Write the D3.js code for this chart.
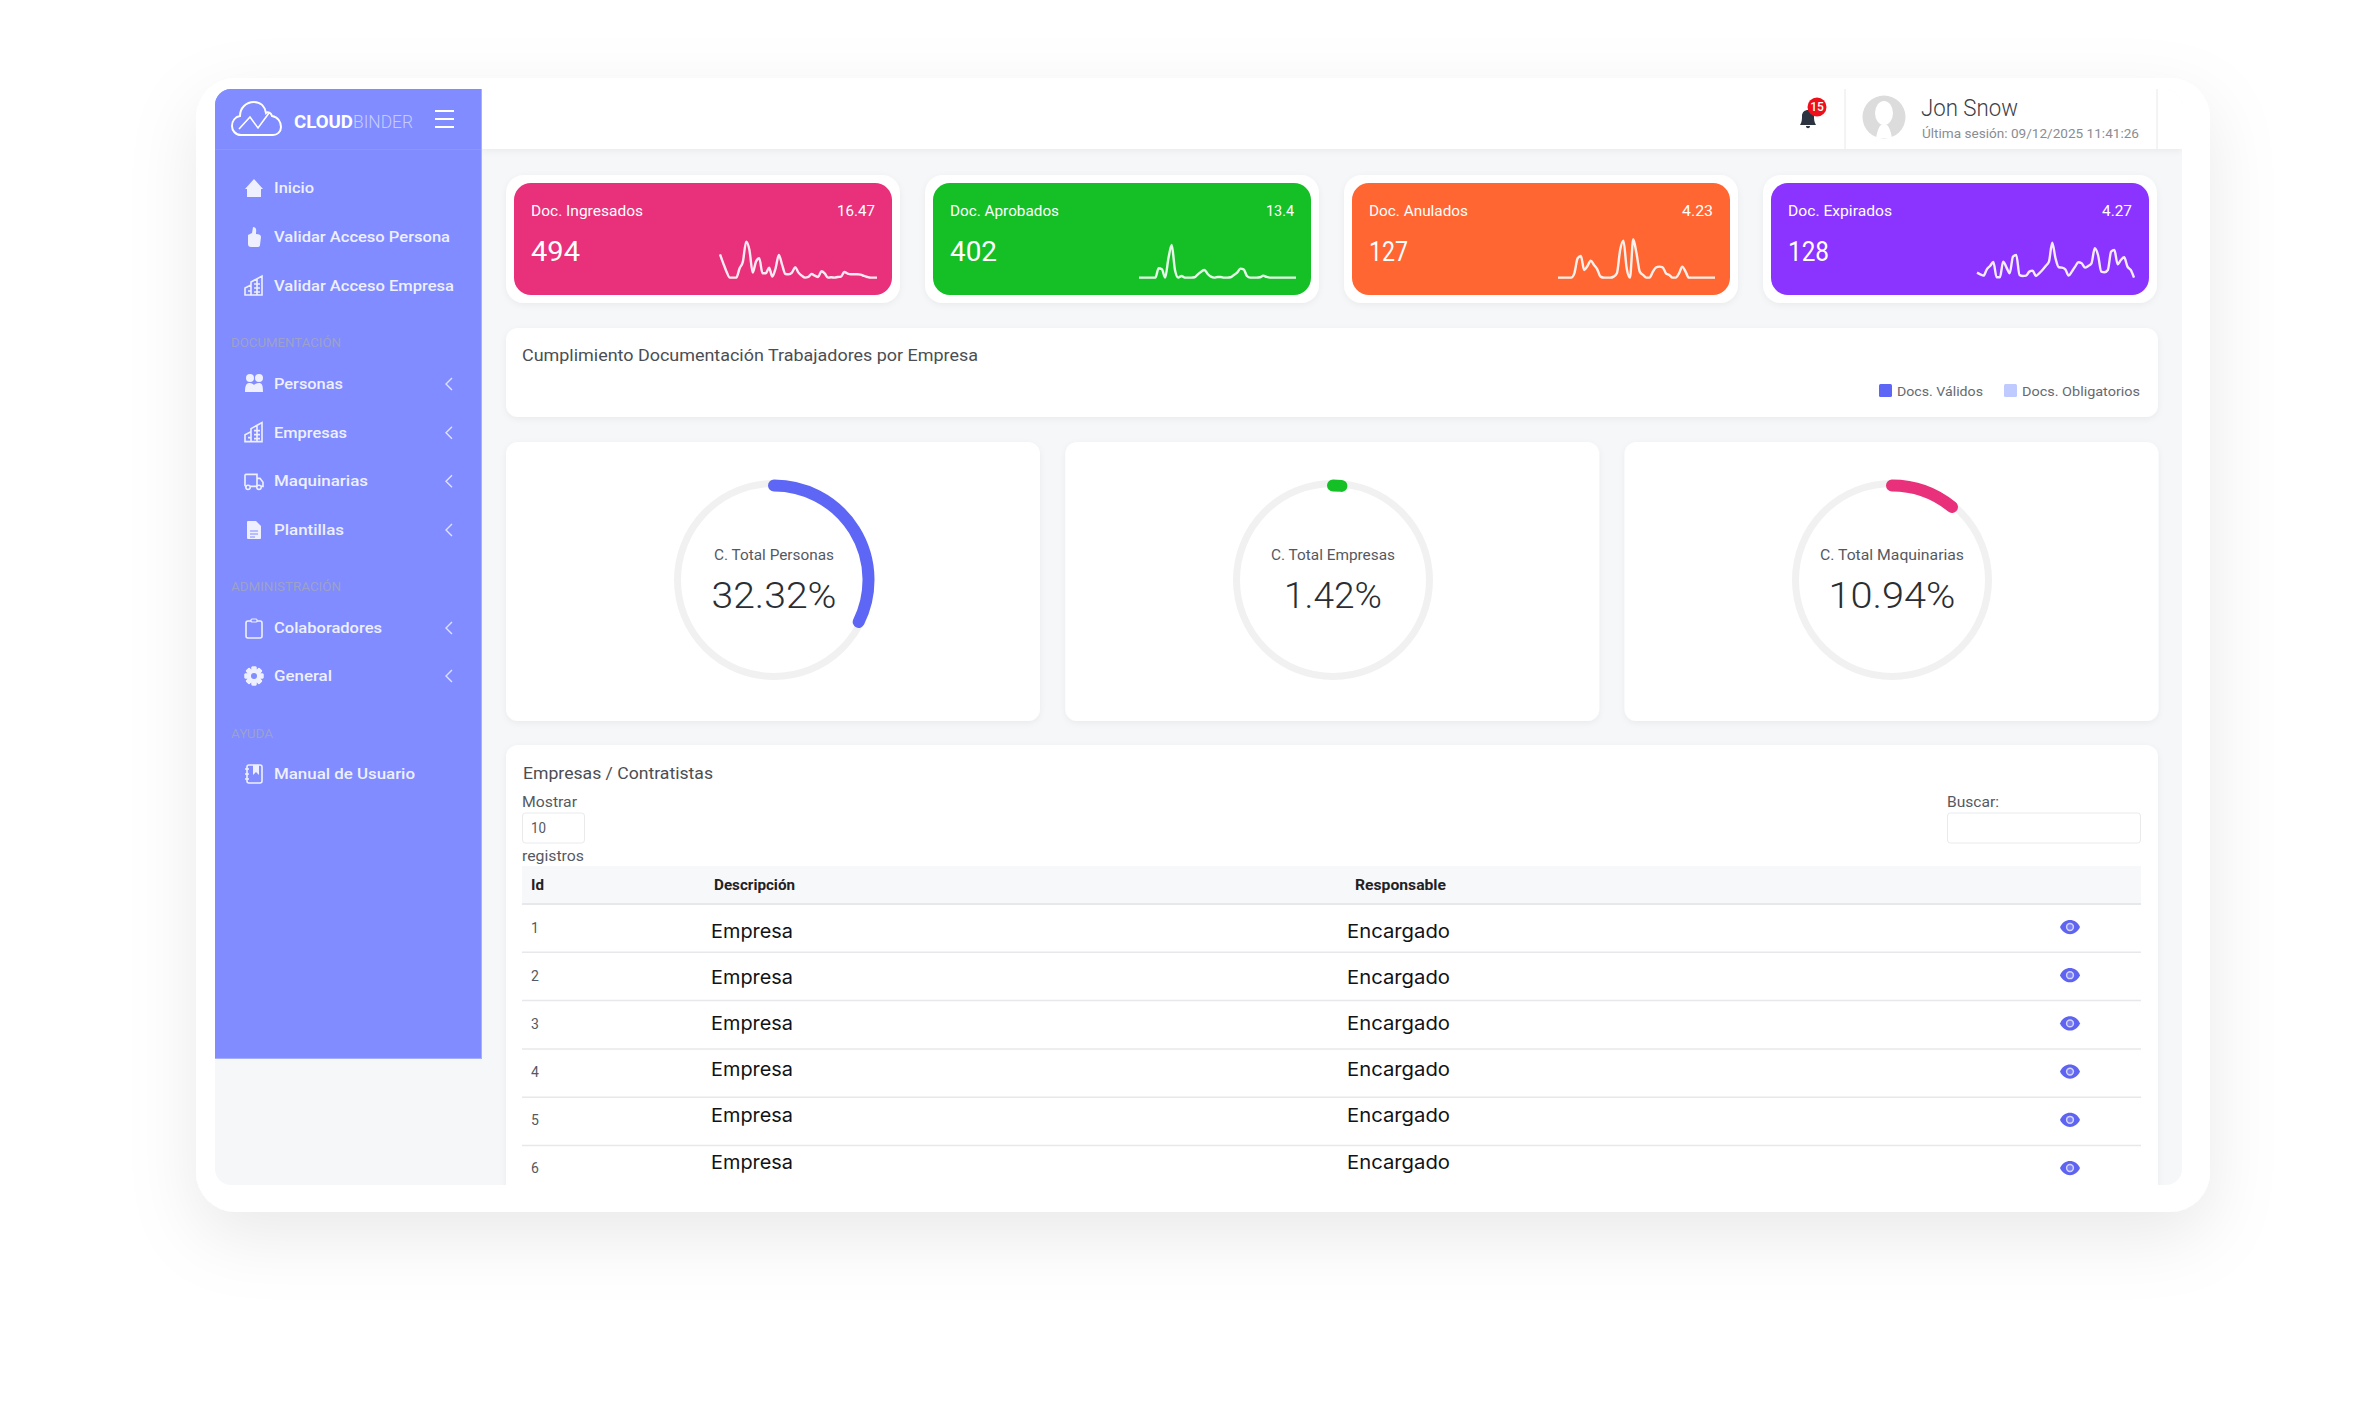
<!DOCTYPE html>
<html>
<head>
<meta charset="utf-8">
<script src="https://cdn.jsdelivr.net/npm/d3@7"></script>
<style>
  html, body { margin: 0; background: #fff; }
  svg { display: block; font-family: Roboto, sans-serif; }
  text { dominant-baseline: central; }
</style>
</head>
<body>
<svg width="2376" height="1407"></svg>
<script>
// top cards
const cardTitles = ['Doc. Ingresados', 'Doc. Aprobados', 'Doc. Anulados', 'Doc. Expirados']
const cardRates = ['16.47', '13.4', '4.23', '4.27']
const cardTotals = ['494', '402', '127', '128']
const cardColors = ['#e8307b', '#14c026', '#ff6632', '#8b33ff']

// sparklines
const sparkIngresados = [72,45,20,2,2,2,30,50,110,85,17,50,60,15,15,32,5,30,70,40,13,12,17,33,17,8,2,4,13,8,4,21,15,2,3,2,4,5,19,14,12,12,12,11,7,4,2,2,2]
const sparkAprobados = [2,2,2,2,2,2,30,27,2,60,100,25,2,7,2,2,2,3,12,20,25,13,5,2,4,4,2,2,3,10,17,29,27,7,2,2,2,3,8,4,2,2,2,2,2,2,2,2,2]
const sparkAnulados = [2,2,2,2,2,15,60,67,25,37,53,40,27,5,2,2,2,5,15,85,113,30,2,117,75,20,10,2,2,20,33,35,33,15,10,2,2,15,35,20,2,2,2,2,2,2,2,2,2]
const sparkExpirados = [17,12,8,27,37,49,3,3,50,33,15,65,70,10,7,8,20,23,7,15,25,37,50,107,60,33,32,27,8,20,35,48,45,32,37,45,90,70,20,18,25,80,85,42,55,63,35,25,2]
const sparks = [sparkIngresados, sparkAprobados, sparkAnulados, sparkExpirados]

// gauges
const gaugeLabels = ['C. Total Personas', 'C. Total Empresas', 'C. Total Maquinarias']
const gaugeValues = [32.32, 1.42, 10.94]
const gaugeColors = ['#5e66f5', '#14c026', '#e8307b']

// table
const tableIds = [1, 2, 3, 4, 5, 6]
const tableDesc = ['Empresa', 'Empresa', 'Empresa', 'Empresa', 'Empresa', 'Empresa']
const tableResp = ['Encargado', 'Encargado', 'Encargado', 'Encargado', 'Encargado', 'Encargado']

// sidebar menu
const menuTop = ['Inicio', 'Validar Acceso Persona', 'Validar Acceso Empresa']
const menuDoc = ['Personas', 'Empresas', 'Maquinarias', 'Plantillas']
const menuAdmin = ['Colaboradores', 'General']

// measured widths so the text sits like the reference
const fitW = {
  'Inicio': 40, 'Validar Acceso Persona': 176, 'Validar Acceso Empresa': 180,
  'Personas': 69, 'Empresas': 73, 'Maquinarias': 94, 'Plantillas': 70, 'Colaboradores': 108, 'General': 58,
  'Manual de Usuario': 141, 'DOCUMENTACIÓN': 110, 'ADMINISTRACIÓN': 110, 'AYUDA': 42,
  'Doc. Ingresados': 112, 'Doc. Aprobados': 109, 'Doc. Anulados': 99, 'Doc. Expirados': 104,
  '16.47': 38, '13.4': 28, '4.23': 31, '4.27': 30, '494': 49, '402': 47, '127': 39, '128': 41,
  'Cumplimiento Documentación Trabajadores por Empresa': 456, 'Docs. Válidos': 86, 'Docs. Obligatorios': 118,
  'C. Total Personas': 120, 'C. Total Empresas': 124, 'C. Total Maquinarias': 144,
  '32.32%': 125, '1.42%': 98, '10.94%': 127,
  'Empresas / Contratistas': 190, 'Mostrar': 55, 'registros': 62, 'Buscar:': 52, '10': 15,
  'Id': 13, 'Descripción': 81, 'Responsable': 91, 'Empresa': 82, 'Encargado': 103,
  'Jon Snow': 97, 'Última sesión: 09/12/2025 11:41:26': 217, 'CLOUD': 59, 'BINDER': 60
}

const svg = d3.select('svg')
const defs = svg.append('defs')

const frameShadow = defs.append('filter').attr('id', 'frameShadow')
  .attr('x', '-15%').attr('y', '-15%').attr('width', '130%').attr('height', '135%')
frameShadow.append('feDropShadow').attr('dx', 0).attr('dy', 24).attr('stdDeviation', 34)
  .attr('flood-color', '#000').attr('flood-opacity', 0.085)

const cardShadow = defs.append('filter').attr('id', 'cardShadow')
  .attr('x', '-5%').attr('y', '-10%').attr('width', '110%').attr('height', '125%')
cardShadow.append('feDropShadow').attr('dx', 0).attr('dy', 2).attr('stdDeviation', 3)
  .attr('flood-color', '#000').attr('flood-opacity', 0.05)

defs.append('clipPath').attr('id', 'screen')
  .append('rect').attr('x', 215).attr('y', 89).attr('width', 1967).attr('height', 1096).attr('rx', 16)

// writes a text, start anchored, stretched to its measured width
function txt(parent, str, x, y, size, fill, weight, family) {
  const t = parent.append('text').text(str)
    .attr('x', x).attr('y', y + 1)
    .attr('font-size', size).attr('fill', fill)
    .attr('font-weight', weight || 400)
  if (family) t.attr('font-family', family)
  if (fitW[str]) t.attr('textLength', fitW[str]).attr('lengthAdjust', 'spacingAndGlyphs')
  return t
}

// frame
svg.append('rect').attr('x', 196).attr('y', 78).attr('width', 2014).attr('height', 1134)
  .attr('rx', 40).attr('fill', '#fff').attr('filter', 'url(#frameShadow)')

const screen = svg.append('g').attr('clip-path', 'url(#screen)')
screen.append('rect').attr('x', 215).attr('y', 89).attr('width', 1967).attr('height', 1096).attr('fill', '#f6f7f9')

// top bar
screen.append('rect').attr('x', 482).attr('y', 89).attr('width', 1700).attr('height', 60)
  .attr('fill', '#fff').attr('filter', 'url(#cardShadow)')
screen.selectAll('.sep').data([1845, 2157]).enter().append('line').attr('class', 'sep')
  .attr('x1', d => d).attr('x2', d => d).attr('y1', 89).attr('y2', 149)
  .attr('stroke', '#e6e8ea')

// bell
screen.append('path').attr('transform', 'translate(1808,118)')
  .attr('d', 'M-8 7 C-6 4 -6 1 -6 -2 C-6 -6 -3 -8 0 -8 C3 -8 6 -6 6 -2 C6 1 6 4 8 7 Z M-2 8 H2 C2 11 -2 11 -2 8 Z')
  .attr('fill', '#2b3340')
screen.append('circle').attr('cx', 1817).attr('cy', 107).attr('r', 9.5).attr('fill', '#ee0f1a')
screen.append('text').text('15').attr('x', 1817).attr('y', 107).attr('text-anchor', 'middle')
  .attr('font-size', 12).attr('fill', '#fff').attr('font-weight', 500)

// avatar
screen.append('circle').attr('cx', 1884).attr('cy', 117).attr('r', 21.5).attr('fill', '#dcdcdc')
screen.append('ellipse').attr('cx', 1884).attr('cy', 113).attr('rx', 9).attr('ry', 12).attr('fill', '#fff')
screen.append('path').attr('d', 'M1876 138 C1878 128 1880 124 1884 124 C1888 124 1890 128 1892 138 Z').attr('fill', '#fff')

txt(screen, 'Jon Snow', 1921, 107, 24, '#3d4148', 300)
txt(screen, 'Última sesión: 09/12/2025 11:41:26', 1922, 132, 13, '#8a8d92')

// sidebar
const side = screen.append('g')
side.append('rect').attr('x', 215).attr('y', 89).attr('width', 267).attr('height', 970).attr('fill', '#a7afff')
side.append('rect').attr('x', 215).attr('y', 89).attr('width', 266).attr('height', 969).attr('fill', '#808cff')
side.append('line').attr('x1', 215).attr('x2', 481).attr('y1', 149.5).attr('y2', 149.5).attr('stroke', '#8a95ff')

// logo
const logo = side.append('g').attr('transform', 'translate(232,102)')
  .attr('fill', 'none').attr('stroke', '#fff').attr('stroke-width', 2)
logo.append('path').attr('d', 'M9 33 C3 33 0 28 0 24 C0 19 3 15 8 14 C8 6 14 0 22 0 C29 0 33 5 34 11 C36 9 39 11 40 14 C46 15 49 20 49 25 C49 30 45 33 41 33 Z')
logo.append('path').attr('d', 'M7 27 L18 15 L26 26 L37 11').attr('stroke-width', 1.6)
txt(side, 'CLOUD', 294, 120, 18, '#fff', 700)
txt(side, 'BINDER', 353, 120, 18, '#c6ccff', 300)
side.selectAll('.burger').data([111, 119, 127]).enter().append('line').attr('class', 'burger')
  .attr('x1', 435).attr('x2', 454).attr('y1', d => d).attr('y2', d => d)
  .attr('stroke', '#fff').attr('stroke-width', 2)

const ink = '#eef0ff'
const icons = {
  home: g => g.append('path').attr('d', 'M-9 1 L0 -9 L9 1 L7 1 L7 9 L-7 9 L-7 1 Z').attr('fill', ink),
  thumb: g => g.append('path').attr('d', 'M-6 -2 L-2 -4 L-1 -10 Q3 -10 2 -4 L2 -3 Q7 -3 7 0 L6 8 Q6 10 3 10 L-3 10 Q-6 10 -6 7 Z').attr('fill', ink),
  building: g => {
    g.append('path').attr('d', 'M-9 9 V2 L-3 -1 V-4 L8 -10 V9 Z M-3 -1 V9 M3 -7 V9 M-6 5 H-3 M0 -2 H6 M0 2 H6 M0 6 H6')
      .attr('fill', 'none').attr('stroke', ink).attr('stroke-width', 1.6)
  },
  users: g => {
    g.selectAll('circle').data([[-4, -6, 4], [5, -6, 4]]).enter().append('circle')
      .attr('cx', d => d[0]).attr('cy', d => d[1]).attr('r', d => d[2]).attr('fill', ink)
    g.append('path').attr('d', 'M-9 8 C-9 0 -7 -1 -4 -1 C-2 -1 -1 0 0 1 C1 0 2 -1 5 -1 C8 -1 9 1 9 8 Z').attr('fill', ink)
  },
  truck: g => {
    g.append('path').attr('d', 'M-9 5 V-6 Q-9 -7 -8 -7 H3 V5 M3 -3 H6 L9 1 V5 H7 M-4 5 H3 M-9 5 H-7')
      .attr('fill', 'none').attr('stroke', ink).attr('stroke-width', 1.6)
    g.selectAll('circle').data([-6, 5]).enter().append('circle').attr('cx', d => d).attr('cy', 6).attr('r', 2.2)
      .attr('fill', 'none').attr('stroke', ink).attr('stroke-width', 1.5)
  },
  doc: g => {
    g.append('path').attr('d', 'M-6 -9 H2 L7 -4 V8 Q7 9 6 9 H-6 Q-7 9 -7 8 V-8 Q-7 -9 -6 -9 Z').attr('fill', ink)
    g.append('path').attr('d', 'M-4 1 H4 M-4 4 H4 M-4 7 H1').attr('stroke', '#808cff').attr('stroke-width', 1)
  },
  clipboard: g => {
    g.append('rect').attr('x', -8).attr('y', -7).attr('width', 16).attr('height', 17).attr('rx', 2)
      .attr('fill', 'none').attr('stroke', ink).attr('stroke-width', 1.6)
    g.append('rect').attr('x', -3).attr('y', -9).attr('width', 6).attr('height', 3).attr('rx', 1)
      .attr('fill', '#808cff').attr('stroke', ink).attr('stroke-width', 1.2)
  },
  gear: g => {
    g.selectAll('rect').data(d3.range(8)).enter().append('rect')
      .attr('x', -2.5).attr('y', -9.5).attr('width', 5).attr('height', 19).attr('rx', 1)
      .attr('transform', d => `rotate(${d * 45})`).attr('fill', ink)
    g.append('circle').attr('r', 7).attr('fill', ink)
    g.append('circle').attr('r', 3).attr('fill', '#808cff')
  },
  book: g => {
    g.append('rect').attr('x', -7).attr('y', -9).attr('width', 15).attr('height', 18).attr('rx', 2)
      .attr('fill', 'none').attr('stroke', ink).attr('stroke-width', 1.6)
    g.append('path').attr('d', 'M-1 -9 H5 V1 L2 -2 L-1 1 Z').attr('fill', ink)
    g.append('path').attr('d', 'M-9 -5 H-5 M-9 0 H-5 M-9 5 H-5').attr('stroke', ink).attr('stroke-width', 1.4)
  }
}

function menuItem(label, y, icon, chevron) {
  const g = side.append('g')
  icons[icon](g.append('g').attr('transform', `translate(254,${y + 1})`))
  txt(g, label, 274, y, 15.5, ink, 500)
  if (chevron) {
    g.append('path').attr('transform', `translate(449,${y + 1})`).attr('d', 'M3 -6 L-3 0 L3 6')
      .attr('fill', 'none').attr('stroke', '#dfe2ff').attr('stroke-width', 1.4)
  }
}
const topY = d3.scalePoint().domain(menuTop).range([187, 285])
const docY = d3.scalePoint().domain(menuDoc).range([383, 529])
const adminY = d3.scalePoint().domain(menuAdmin).range([627, 675])
menuTop.forEach((m, i) => menuItem(m, topY(m), ['home', 'thumb', 'building'][i], false))
menuDoc.forEach((m, i) => menuItem(m, docY(m), ['users', 'building', 'truck', 'doc'][i], true))
menuAdmin.forEach((m, i) => menuItem(m, adminY(m), ['clipboard', 'gear'][i], true))
menuItem('Manual de Usuario', 773, 'book', false)

txt(side, 'DOCUMENTACIÓN', 231, 342, 12, '#9da1ca')
txt(side, 'ADMINISTRACIÓN', 231, 586, 12, '#9da1ca')
txt(side, 'AYUDA', 231, 733, 12, '#9da1ca')

// top cards with sparklines
const cardX = d3.scaleLinear().domain([0, 3]).range([514, 1771])
const sparkX = d3.scaleLinear().domain([0, 48]).range([206, 363])
const sparkY = d3.scaleLinear().domain([0, 120]).range([95.3, 55.3])
const sparkLine = d3.line().x((d, i) => sparkX(i)).y(d => sparkY(d)).curve(d3.curveMonotoneX)

cardTitles.forEach((title, i) => {
  const g = screen.append('g').attr('transform', `translate(${cardX(i)},183)`)
  g.append('rect').attr('x', -8).attr('y', -8).attr('width', 394).attr('height', 128).attr('rx', 18)
    .attr('fill', '#fff').attr('filter', 'url(#cardShadow)')
  g.append('rect').attr('width', 378).attr('height', 112).attr('rx', 17).attr('fill', cardColors[i])
  txt(g, title, 17, 27, 14, '#fff')
  txt(g, cardRates[i], 361 - fitW[cardRates[i]], 27, 14, '#fff')
  txt(g, cardTotals[i], 17, 68, 27, '#fff', 400)
  g.append('path').datum(sparks[i]).attr('d', sparkLine)
    .attr('fill', 'none').attr('stroke', '#fff').attr('stroke-opacity', 0.9).attr('stroke-width', 2.4)
})

// compliance card and its legend
const panel = (x, y, w, h) => screen.append('rect').attr('x', x).attr('y', y).attr('width', w).attr('height', h)
  .attr('rx', 12).attr('fill', '#fff').attr('filter', 'url(#cardShadow)')
panel(506, 328, 1652, 89)
txt(screen, 'Cumplimiento Documentación Trabajadores por Empresa', 522, 354, 16, '#4a4e54')
screen.append('rect').attr('x', 1879).attr('y', 384).attr('width', 13).attr('height', 13).attr('rx', 1.5).attr('fill', '#5e66f5')
txt(screen, 'Docs. Válidos', 1897, 390, 13, '#666a70')
screen.append('rect').attr('x', 2004).attr('y', 384).attr('width', 13).attr('height', 13).attr('rx', 1.5).attr('fill', '#bfcaff')
txt(screen, 'Docs. Obligatorios', 2022, 390, 13, '#666a70')

// gauges
const gaugeCenter = d3.scaleLinear().domain([0, 2]).range([774, 1892])
const gaugeLeft = d3.scaleLinear().domain([0, 2]).range([506, 1624.5])
const angle = d3.scaleLinear().domain([0, 100]).range([0, 2 * Math.PI])
// open arc so the round caps show
const gaugeArc = v => {
  const p = d3.path()
  p.arc(0, 0, 94.5, -Math.PI / 2, -Math.PI / 2 + angle(v))
  return p.toString()
}

gaugeValues.forEach((v, i) => {
  panel(gaugeLeft(i), 442, 534, 279)
  const g = screen.append('g').attr('transform', `translate(${gaugeCenter(i)},580)`)
  g.append('circle').attr('r', 96.5).attr('fill', 'none').attr('stroke', '#f1f1f1').attr('stroke-width', 7)
  g.append('path').datum(v).attr('d', gaugeArc).attr('fill', 'none')
    .attr('stroke', gaugeColors[i]).attr('stroke-width', 12).attr('stroke-linecap', 'round')
  const label = gaugeLabels[i]
  txt(g, label, -fitW[label] / 2, -26, 14, '#55595f')
  const pct = v + '%'
  txt(g, pct, -fitW[pct] / 2, 14, 37, '#2a2d33', 300)
})

// table
panel(506, 745, 1652, 460)
txt(screen, 'Empresas / Contratistas', 523, 772, 16, '#4a4e54')
txt(screen, 'Mostrar', 522, 801, 14, '#55595f')
screen.append('rect').attr('x', 522.5).attr('y', 813).attr('width', 62).attr('height', 30).attr('rx', 3)
  .attr('fill', '#fff').attr('stroke', '#e8eaec')
txt(screen, '10', 531, 827, 14, '#55595f')
txt(screen, 'registros', 522, 855, 14, '#55595f')
txt(screen, 'Buscar:', 1947, 801, 14, '#55595f')
screen.append('rect').attr('x', 1947.5).attr('y', 813).attr('width', 193).attr('height', 30).attr('rx', 3)
  .attr('fill', '#fff').attr('stroke', '#e8eaec')

screen.append('rect').attr('x', 522).attr('y', 866).attr('width', 1619).attr('height', 38).attr('fill', '#f7f8f9')
txt(screen, 'Id', 531, 884, 14, '#1f2226', 700)
txt(screen, 'Descripción', 714, 884, 14, '#1f2226', 700)
txt(screen, 'Responsable', 1355, 884, 14, '#1f2226', 700)

const ruleY = d3.scaleLinear().domain([0, 5]).range([904, 1145.5])
d3.range(6).forEach(k => {
  screen.append('line').attr('x1', 522).attr('x2', 2141).attr('y1', ruleY(k)).attr('y2', ruleY(k))
    .attr('stroke', '#e6e8eb').attr('stroke-width', k ? 1.5 : 2)
})

const idY = d3.scalePoint().domain(tableIds).range([927, 1167])
const textY = d3.scalePoint().domain(tableIds).range([930, 1161])
const eyeY = d3.scalePoint().domain(tableIds).range([927, 1168])
tableIds.forEach((id, i) => {
  txt(screen, String(id), 531, idY(id), 14, '#55595f')
  txt(screen, tableDesc[i], 711, textY(id), 19, '#111317', 400, 'Inter')
  txt(screen, tableResp[i], 1347, textY(id), 19, '#111317', 400, 'Inter')
  const eye = screen.append('g').attr('transform', `translate(2070,${eyeY(id)})`)
  eye.append('path').attr('d', 'M-10 0 C-6 -9.5 6 -9.5 10 0 C6 9.5 -6 9.5 -10 0 Z').attr('fill', '#5e63f0')
  eye.append('circle').attr('r', 3.4).attr('fill', '#7a7ef3').attr('stroke', '#d2d4fc').attr('stroke-width', 1.5)
})
</script>
</body>
</html>
